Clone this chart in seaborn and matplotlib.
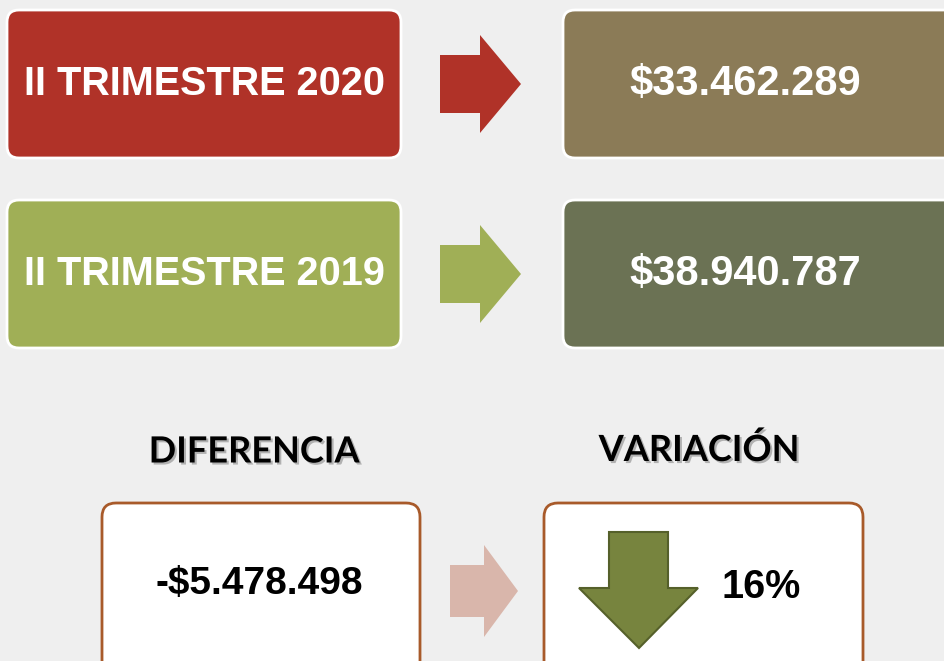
import matplotlib
matplotlib.use('Agg')
import matplotlib.pyplot as plt
import seaborn as sns
from matplotlib.patches import FancyBboxPatch, Polygon
from matplotlib import patheffects as pe

# Data
periods = ['II TRIMESTRE 2020', 'II TRIMESTRE 2019']
amounts = [33462289, 38940787]
section_titles = ['DIFERENCIA', 'VARIACIÓN']
variation_pct = 16

difference = amounts[0] - amounts[1]


def money(v):
    s = f'{abs(v):,}'.replace(',', '.')
    return ('-$' if v < 0 else '$') + s


sns.set_theme(style='white')
plt.rcParams['font.family'] = ['Liberation Sans', 'DejaVu Sans']

bg = '#EFEFEF'
period_colors = ['#B03228', '#A0AF56']
amount_colors = ['#8B7B57', '#6B7254']
border = '#A85A2A'

fig = plt.figure(figsize=(9.45, 6.61), dpi=100)
fig.patch.set_facecolor(bg)
ax = fig.add_axes([0, 0, 1, 1])
ax.set_facecolor(bg)
ax.set_xlim(0, 945)
ax.set_ylim(661, 0)
ax.axis('off')

arial = ['Liberation Sans', 'DejaVu Sans']
calibri = ['Lato', 'DejaVu Sans']

# top rows: period box -> arrow -> amount box
for i, (label, amt) in enumerate(zip(periods, amounts)):
    y0 = 10 + i * 190
    h = 148
    ax.add_patch(FancyBboxPatch((7, y0), 394, h, boxstyle='round,pad=0,rounding_size=12',
                                fc=period_colors[i], ec='white', lw=2))
    ax.text(204, y0 + h / 2, label, color='white', fontsize=28.5, fontweight='bold',
            family=arial, ha='center', va='center')
    # arrow
    cy = y0 + 74
    ax.add_patch(Polygon([(440, cy - 29), (480, cy - 29), (480, cy - 49), (521, cy),
                          (480, cy + 49), (480, cy + 29), (440, cy + 29)],
                         closed=True, fc=period_colors[i], ec='none'))
    ax.add_patch(FancyBboxPatch((563, y0), 400, h, boxstyle='round,pad=0,rounding_size=12',
                                fc=amount_colors[i], ec='white', lw=2))
    ax.text(745, y0 + h / 2, money(amt), color='white', fontsize=30, fontweight='bold',
            family=arial, ha='center', va='center')

# section titles
shadow = [pe.withSimplePatchShadow(offset=(1.5, -1.5), shadow_rgbFace='#888888', alpha=0.6)]
ax.text(254, 452, section_titles[0], fontsize=26, fontweight='bold', family=calibri,
        ha='center', va='center', color='black', path_effects=shadow)
ax.text(699, 450, section_titles[1], fontsize=26, fontweight='bold', family=calibri,
        ha='center', va='center', color='black', path_effects=shadow)

# bottom boxes
ax.add_patch(FancyBboxPatch((102, 503), 318, 175, boxstyle='round,pad=0,rounding_size=14',
                            fc='white', ec=border, lw=2))
ax.text(259, 584, money(difference), fontsize=28, fontweight='bold', family=arial,
        ha='center', va='center', color='black')

# pale arrow between
cy = 591
ax.add_patch(Polygon([(450, cy - 26), (484, cy - 26), (484, cy - 46), (518, cy),
                      (484, cy + 46), (484, cy + 26), (450, cy + 26)],
                     closed=True, fc='#D9B6AB', ec='none'))

ax.add_patch(FancyBboxPatch((544, 503), 319, 175, boxstyle='round,pad=0,rounding_size=14',
                            fc='white', ec=border, lw=2))
# down arrow
ax.add_patch(Polygon([(609, 532), (668, 532), (668, 588), (698, 588), (639, 648),
                      (579, 588), (609, 588)],
                     closed=True, fc='#77843E', ec='#55602A', lw=1.5))
ax.text(761, 587, f'{variation_pct}%', fontsize=28.5, fontweight='bold', family=arial,
        ha='center', va='center', color='black')

fig.savefig('out.png', dpi=100, facecolor=bg)
